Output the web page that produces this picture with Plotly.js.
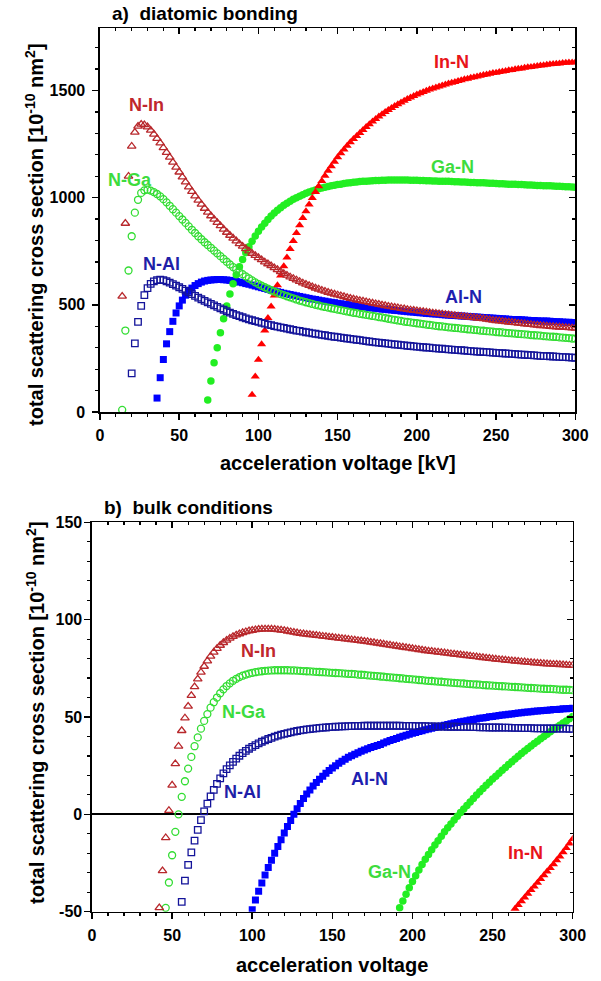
<!DOCTYPE html>
<html>
<head>
<meta charset="utf-8">
<script src="https://cdn.plot.ly/plotly-3.0.1.min.js"></script>
<style>html,body{margin:0;padding:0;background:#fff}#chart{width:601px;height:981px}</style>
</head>
<body>
<div id="chart"></div>
<script>
// shared acceleration-voltage grid [kV]
const kV = [14,16,18,20,22,24,26,28,30,32,34,36,38,40,42,44,46,48,50,52,54,56,58,60,62,64,66,68,70,72,74,76,78,80,82,84,86,88,90,92,94,96,98,100,102,104,106,108,110,112,114,116,118,120,122,124,126,128,130,132,134,136,138,140,142,144,146,148,150,152,154,156,158,160,162,164,166,168,170,172,174,176,178,180,182,184,186,188,190,192,194,196,198,200,202,204,206,208,210,212,214,216,218,220,222,224,226,228,230,232,234,236,238,240,242,244,246,248,250,252,254,256,258,260,262,264,266,268,270,272,274,276,278,280,282,284,286,288,290,292,294,296,298,300];

// ---- a) diatomic bonding  [1e-10 nm^2] ----
const nIn_a_start = 14;
const nIn_a = [540,880,1100,1240,1305,1333,1342,1340,1330,1314,
1296,1276,1255,1233,1211,1188,1165,1142,1119,1096,
1073,1050,1029,1008,988,969,950,932,915,899,
884,869,853,838,824,811,798,785,773,762,
751,740,730,720,710,700,691,682,673,664,
655,646,638,630,623,616,609,602,596,590,
584,578,573,568,563,558,554,550,546,542,
538,534,530,527,523,520,517,514,511,508,
505,502,499,496,493,491,488,486,483,481,
478,476,474,472,470,468,466,464,462,460,
458,457,455,453,451,450,448,446,445,443,
442,440,438,437,435,433,430,428,426,425,
423,421,419,418,416,414,413,411,409,408,
406,405,403,402,401,399,398,397,396,395,
394,393,392,391];

const nGa_a_start = 14;
const nGa_a = [10,380,660,820,930,990,1022,1034,1037,1033,
1026,1017,1006,993,978,962,946,930,914,898,
882,866,850,835,820,806,792,779,766,753,
740,727,714,701,688,676,665,654,643,633,
623,614,605,597,589,582,575,568,562,556,
550,545,540,535,530,525,520,516,512,508,
504,500,497,493,490,487,484,481,478,475,
472,469,466,463,461,458,456,453,451,448,
446,443,441,438,435,432,430,427,425,422,
420,418,416,414,412,410,408,406,404,402,
400,399,397,395,394,392,391,389,388,386,
385,383,382,380,379,377,376,375,373,372,
371,369,368,367,366,364,363,362,361,359,
358,357,356,354,353,352,351,350,348,347,
346,345,343,342];

const nAl_a_start = 20;
const nAl_a = [180,320,420,495,545,578,598,609,615,617,
615,610,604,597,590,582,574,566,558,550,
542,534,526,518,511,504,497,490,483,477,
470,464,458,452,447,442,437,432,428,424,
420,416,412,408,405,401,398,395,392,389,
386,383,380,378,375,372,370,367,365,362,
360,358,355,353,351,349,347,345,343,341,
339,337,335,333,331,329,327,325,324,322,
320,319,317,315,314,312,311,309,308,306,
305,304,302,301,300,298,297,296,295,293,
292,291,290,289,288,287,285,284,283,282,
281,280,279,278,277,276,275,274,273,272,
271,270,269,268,267,266,265,264,263,262,
261,261,260,259,258,257,256,256,255,254,
253];

const alN_a_start = 36;
const alN_a = [65,160,245,318,375,423,462,495,522,545,
563,578,590,599,606,611,614,616,617,618,
618,617,616,614,612,609,606,603,599,596,
592,588,584,580,576,572,568,565,561,558,
554,551,548,545,542,539,536,533,530,527,
525,522,519,517,514,512,510,507,505,503,
501,499,497,495,493,491,489,487,485,484,
482,480,479,477,476,474,473,471,470,468,
467,466,464,463,462,460,459,458,457,456,
454,453,452,451,450,449,448,447,446,445,
444,443,442,441,440,439,438,437,436,435,
434,433,432,431,431,430,429,428,427,427,
426,425,424,424,423,422,421,421,420,419,
419,418,417];

const gaN_a_start = 68;
const gaN_a = [56,145,230,300,370,435,495,550,598,640,
678,712,743,771,797,821,843,863,881,898,
914,928,941,953,964,974,983,992,1000,1007,
1014,1020,1026,1031,1036,1041,1045,1049,1052,1055,
1058,1061,1063,1066,1068,1070,1072,1073,1075,1076,
1077,1078,1079,1080,1080,1081,1081,1082,1082,1082,
1082,1082,1082,1082,1081,1081,1081,1080,1080,1079,
1079,1078,1078,1077,1077,1076,1076,1075,1074,1074,
1073,1073,1072,1071,1071,1070,1069,1069,1068,1067,
1067,1066,1065,1065,1064,1063,1063,1062,1061,1061,
1060,1059,1059,1058,1057,1057,1056,1055,1055,1054,
1053,1053,1052,1051,1051,1050,1049];

const inN_a_start = 96;
const inN_a = [80,166,244,316,380,438,492,543,591,637,
680,721,760,798,835,871,905,937,968,998,
1026,1053,1078,1102,1125,1147,1168,1188,1207,1225,
1242,1258,1273,1288,1302,1315,1330,1342,1355,1367,
1378,1389,1399,1409,1418,1427,1436,1444,1452,1460,
1467,1474,1481,1487,1493,1499,1504,1509,1514,1519,
1523,1528,1532,1536,1540,1544,1548,1552,1555,1559,
1562,1565,1569,1572,1575,1578,1581,1583,1586,1589,
1591,1594,1596,1599,1601,1603,1606,1608,1610,1612,
1614,1616,1618,1620,1622,1623,1625,1626,1628,1629,
1630,1631,1632];

// ---- b) bulk conditions  [1e-10 nm^2] ----
const nIn_b_start = 42;
const nIn_b = [-48,-29,-12,2,15,26,35,43,49.5,55.5,
61,65.5,69.5,73,76,78.8,81.2,83.3,85.2,86.8,
88.2,89.4,90.4,91.3,92.1,92.7,93.3,93.8,94.2,94.5,
94.8,95,95.1,95.2,95.2,95.1,95,94.8,94.6,94.4,
94.1,93.8,93.5,93.2,92.9,92.7,92.5,92.3,92.1,91.9,
91.7,91.5,91.3,91.1,90.9,90.7,90.5,90.3,90.1,89.9,
89.7,89.5,89.3,89.1,88.9,88.7,88.4,88.2,87.9,87.7,
87.4,87.1,86.9,86.6,86.4,86.1,85.9,85.6,85.4,85.1,
84.9,84.6,84.4,84.1,83.9,83.7,83.5,83.3,83.1,82.9,
82.7,82.5,82.3,82.1,81.9,81.7,81.5,81.3,81.1,80.9,
80.7,80.5,80.3,80.1,79.9,79.7,79.5,79.4,79.2,79,
78.9,78.7,78.6,78.4,78.3,78.1,78,77.8,77.7,77.6,
77.4,77.3,77.2,77.1,77,76.9,76.8,76.7,76.6,76.5];

const nGa_b_start = 46;
const nGa_b = [-48,-35,-21,-9,0,9,17,23.5,29.5,35,
39.5,44,48,51.5,54.8,57.6,60,62.2,64.2,65.9,
67.3,68.6,69.6,70.5,71.2,71.8,72.3,72.7,73,73.3,
73.5,73.7,73.8,73.9,74,74,74,74,74,73.9,
73.9,73.8,73.7,73.6,73.5,73.4,73.3,73.2,73.1,73,
72.9,72.8,72.7,72.6,72.5,72.4,72.3,72.2,72.1,72,
71.8,71.7,71.6,71.4,71.3,71.1,71,70.8,70.7,70.5,
70.4,70.2,70.1,69.9,69.8,69.6,69.5,69.3,69.2,69,
68.9,68.7,68.6,68.5,68.3,68.2,68.1,67.9,67.8,67.7,
67.5,67.4,67.3,67.2,67,66.9,66.8,66.7,66.6,66.4,
66.3,66.2,66.1,66,65.9,65.8,65.7,65.6,65.5,65.4,
65.3,65.2,65.1,65,64.9,64.8,64.7,64.6,64.5,64.4,
64.4,64.3,64.2,64.1,64,64,63.9,63.8];

const nAl_b_start = 56;
const nAl_b = [-45,-34,-26,-19.5,-13.5,-8,-3,1.5,5.5,9.2,
12.6,15.7,18.5,21,23.2,25.2,27,28.6,30.1,31.4,
32.6,33.7,34.7,35.6,36.5,37.3,38,38.7,39.3,39.9,
40.4,40.9,41.3,41.7,42.1,42.5,42.8,43.1,43.4,43.6,
43.8,44,44.2,44.4,44.5,44.6,44.8,44.9,45,45.1,
45.2,45.2,45.3,45.3,45.4,45.4,45.4,45.5,45.5,45.5,
45.5,45.5,45.5,45.5,45.5,45.5,45.5,45.5,45.5,45.4,
45.4,45.4,45.4,45.3,45.3,45.3,45.3,45.2,45.2,45.2,
45.1,45.1,45.1,45,45,45,45,44.9,44.9,44.9,
44.8,44.8,44.8,44.7,44.7,44.7,44.6,44.6,44.6,44.6,
44.5,44.5,44.5,44.4,44.4,44.4,44.3,44.3,44.3,44.3,
44.2,44.2,44.2,44.1,44.1,44.1,44.1,44,44,44,
44,43.9,43.9];

const alN_b_start = 100;
const alN_b = [-49,-44,-39.5,-35.2,-31.2,-27.3,-23.6,-20,-16.5,-13,
-9.6,-6.3,-3.1,0,2.9,5.6,8.1,10.4,12.5,14.5,
16.3,18,19.6,21.1,22.5,23.8,25,26.2,27.3,28.3,
29.3,30.1,30.9,31.7,32.4,33.1,33.7,34.3,34.9,35.4,
35.9,36.6,37.3,37.9,38.5,39,39.6,40.1,40.6,41.1,
41.6,42.1,42.5,43,43.4,43.8,44.2,44.6,45,45.4,
45.8,46.2,46.5,46.9,47.2,47.5,47.8,48.1,48.4,48.7,
49,49.3,49.5,49.8,50.1,50.3,50.5,50.8,51,51.2,
51.4,51.6,51.8,52,52.2,52.4,52.6,52.7,52.9,53.1,
53.2,53.4,53.5,53.6,53.8,53.9,54,54.2,54.3,54.4,
54.5];

const gaN_b_start = 192;
const gaN_b = [-48,-44.5,-41,-37.7,-34.5,-31.5,-28.6,-25.8,-23.1,-20.6,
-18.2,-15.8,-13.5,-11.2,-9,-6.9,-4.9,-2.9,-1,0.9,
2.8,4.6,6.4,8.2,9.9,11.6,13.3,14.9,16.5,18.1,
19.6,21.1,22.6,24.1,25.6,27,28.4,29.8,31.2,32.5,
33.8,35.1,36.4,37.6,38.8,40,41.2,42.4,43.6,44.7,
45.8,46.9,48,49.1,50.2];

const inN_b_start = 264;
const inN_b = [-48.5,-46.5,-44.6,-42.7,-40.8,-38.9,-37,-35.1,-33.2,-31.3,
-29.4,-27.5,-25.6,-23.6,-21.6,-19.5,-17.3,-15,-12.6];

// tick values
const xTicks = [0,50,100,150,200,250,300];
const yTicksA = [0,500,1000,1500];
const yTicksB = [-50,0,50,100,150];

// ---------------------------------------------------
const FONT = 'Liberation Sans, Arial, Helvetica, sans-serif';
const W = 601, H = 981;
function xsFrom(start, vals) { const i = kV.indexOf(start); return kV.slice(i, i + vals.length); }
function px(x) { return x / W; }
function py(y) { return 1 - y / H; }

const C = {
  inN: '#ff0000', nIn: '#b8282c',
  gaN: '#22ee22', nGa: '#33dd33',
  alN: '#0000ff', nAl: '#14149a'
};

function tr(start, vals, sym, color, open, xa, ya, size) {
  return {
    type: 'scatter', mode: 'markers', x: xsFrom(start, vals), y: vals,
    xaxis: xa, yaxis: ya, hoverinfo: 'skip', showlegend: false,
    marker: open
      ? {symbol: sym, size: size, color: color, line: {color: color, width: 1.3}}
      : {symbol: sym, size: size, color: color, line: {width: 0}}
  };
}

const data = [
  tr(alN_a_start, alN_a, 'square', C.alN, false, 'x', 'y', 7),
  tr(gaN_a_start, gaN_a, 'circle', C.gaN, false, 'x', 'y', 7.5),
  tr(inN_a_start, inN_a, 'triangle-up', C.inN, false, 'x', 'y', 8),
  tr(nAl_a_start, nAl_a, 'square-open', C.nAl, true, 'x', 'y', 6.5),
  tr(nGa_a_start, nGa_a, 'circle-open', C.nGa, true, 'x', 'y', 7),
  tr(nIn_a_start, nIn_a, 'triangle-up-open', C.nIn, true, 'x', 'y', 7.5),

  tr(alN_b_start, alN_b, 'square', C.alN, false, 'x2', 'y2', 7),
  tr(gaN_b_start, gaN_b, 'circle', C.gaN, false, 'x2', 'y2', 7.5),
  tr(inN_b_start, inN_b, 'triangle-up', C.inN, false, 'x2', 'y2', 8),
  tr(nAl_b_start, nAl_b, 'square-open', C.nAl, true, 'x2', 'y2', 6.5),
  tr(nGa_b_start, nGa_b, 'circle-open', C.nGa, true, 'x2', 'y2', 7),
  tr(nIn_b_start, nIn_b, 'triangle-up-open', C.nIn, true, 'x2', 'y2', 7.5),

  // helpers so the inside-tick mirror axes get drawn
  {type:'scatter', mode:'markers', x:[null], y:[null], xaxis:'x3', yaxis:'y', showlegend:false, hoverinfo:'skip'},
  {type:'scatter', mode:'markers', x:[null], y:[null], xaxis:'x', yaxis:'y3', showlegend:false, hoverinfo:'skip'},
  {type:'scatter', mode:'markers', x:[null], y:[null], xaxis:'x4', yaxis:'y2', showlegend:false, hoverinfo:'skip'},
  {type:'scatter', mode:'markers', x:[null], y:[null], xaxis:'x2', yaxis:'y4', showlegend:false, hoverinfo:'skip'}
];

const tickFont = {family: FONT, size: 16, color: '#000', weight: 'bold'};
function mainAxis(extra) {
  return Object.assign({
    showline: true, linecolor: '#000', linewidth: 1.6, mirror: true,
    ticks: 'outside', ticklen: 6, tickwidth: 1.5, tickcolor: '#000',
    showgrid: false, zeroline: false, tickfont: tickFont, fixedrange: true
  }, extra);
}
function mirrorAxis(extra) {
  return Object.assign({
    showline: false, ticks: 'inside', ticklen: 6, tickwidth: 1.5, tickcolor: '#000',
    showticklabels: false, showgrid: false, zeroline: false, fixedrange: true
  }, extra);
}

const layout = {
  width: W, height: H,
  margin: {l: 0, r: 0, t: 0, b: 0},
  paper_bgcolor: '#fff', plot_bgcolor: '#fff',
  showlegend: false,
  font: {family: FONT, color: '#000'},

  xaxis: mainAxis({domain: [px(100), px(575.3)], anchor: 'y', range: [0, 300],
    tickvals: xTicks, ticktext: xTicks.map(String), ticklabelstandoff: 2,
    minor: {ticks: 'outside', ticklen: 3, tickwidth: 1.2, tickcolor: '#000', dtick: 10, tick0: 0, showgrid: false}}),
  yaxis: mainAxis({domain: [py(412), py(28.3)], anchor: 'x', range: [0, 1790],
    tickvals: yTicksA, ticktext: yTicksA.map(String), ticklabelstandoff: 4,
    minor: {ticks: 'outside', ticklen: 3, tickwidth: 1.2, tickcolor: '#000', dtick: 100, tick0: 0, showgrid: false}}),
  xaxis3: mirrorAxis({overlaying: 'x', anchor: 'y', side: 'top', range: [0, 300], tickvals: xTicks,
    minor: {ticks: 'inside', ticklen: 3, tickwidth: 1.2, tickcolor: '#000', dtick: 10, tick0: 0, showgrid: false}}),
  yaxis3: mirrorAxis({overlaying: 'y', anchor: 'x', side: 'right', range: [0, 1790], tickvals: yTicksA,
    minor: {ticks: 'inside', ticklen: 3, tickwidth: 1.2, tickcolor: '#000', dtick: 100, tick0: 0, showgrid: false}}),

  xaxis2: mainAxis({domain: [px(92), px(572.7)], anchor: 'y2', range: [0, 300],
    tickvals: xTicks, ticktext: xTicks.map(String), ticklabelstandoff: 2,
    minor: {ticks: 'outside', ticklen: 3, tickwidth: 1.2, tickcolor: '#000', dtick: 10, tick0: 0, showgrid: false}}),
  yaxis2: mainAxis({domain: [py(911.7), py(522.3)], anchor: 'x2', range: [-50, 150],
    tickvals: yTicksB, ticktext: yTicksB.map(String), ticklabelstandoff: -1,
    zeroline: true, zerolinecolor: '#000', zerolinewidth: 1.8,
    minor: {ticks: 'outside', ticklen: 3, tickwidth: 1.2, tickcolor: '#000', dtick: 10, tick0: 0, showgrid: false}}),
  xaxis4: mirrorAxis({overlaying: 'x2', anchor: 'y2', side: 'top', range: [0, 300], tickvals: xTicks,
    minor: {ticks: 'inside', ticklen: 3, tickwidth: 1.2, tickcolor: '#000', dtick: 10, tick0: 0, showgrid: false}}),
  yaxis4: mirrorAxis({overlaying: 'y2', anchor: 'x2', side: 'right', range: [-50, 150], tickvals: yTicksB,
    minor: {ticks: 'inside', ticklen: 3, tickwidth: 1.2, tickcolor: '#000', dtick: 10, tick0: 0, showgrid: false}}),

  annotations: []
};

function ann(text, x, y, size, color, opts) {
  return Object.assign({
    text: text, x: px(x), y: py(y), xref: 'paper', yref: 'paper',
    xanchor: 'center', yanchor: 'middle', showarrow: false,
    font: {family: FONT, size: size, color: color, weight: 'bold'}
  }, opts || {});
}

const yTitle = 'total scattering cross section [10<sup>-10</sup> nm<sup>2</sup>]';
layout.annotations.push(
  ann('a)\u00a0 diatomic bonding', 110, 13, 19, '#000', {xanchor: 'left'}),
  ann('b)\u00a0 bulk conditions', 102, 507, 19, '#000', {xanchor: 'left'}),
  ann('acceleration voltage [kV]', 338, 463, 20, '#000'),
  ann('acceleration voltage', 332, 965, 20, '#000'),
  ann(yTitle, 35, 235, 20, '#000', {textangle: -90}),
  ann(yTitle, 35, 713, 20, '#000', {textangle: -90}),

  ann('N-In', 146, 105, 18, '#c0272d'),
  ann('N-Ga', 130, 180, 18, '#3ddc3d'),
  ann('N-Al', 161, 264, 18, '#1f1fa8'),
  ann('In-N', 451, 62, 18, '#e8141b'),
  ann('Ga-N', 452, 167, 18, '#3ddc3d'),
  ann('Al-N', 463, 297, 18, '#1f1fb0'),

  ann('N-In', 258, 651, 18, '#c0272d'),
  ann('N-Ga', 244, 712, 18, '#3ddc3d'),
  ann('N-Al', 243, 792, 18, '#1f1fa8'),
  ann('Al-N', 369, 779, 18, '#1f1fb0'),
  ann('Ga-N', 389, 872, 18, '#3ddc3d'),
  ann('In-N', 525, 853, 18, '#e8141b')
);

Plotly.newPlot('chart', data, layout, {displayModeBar: false, staticPlot: true});
</script>
</body>
</html>
